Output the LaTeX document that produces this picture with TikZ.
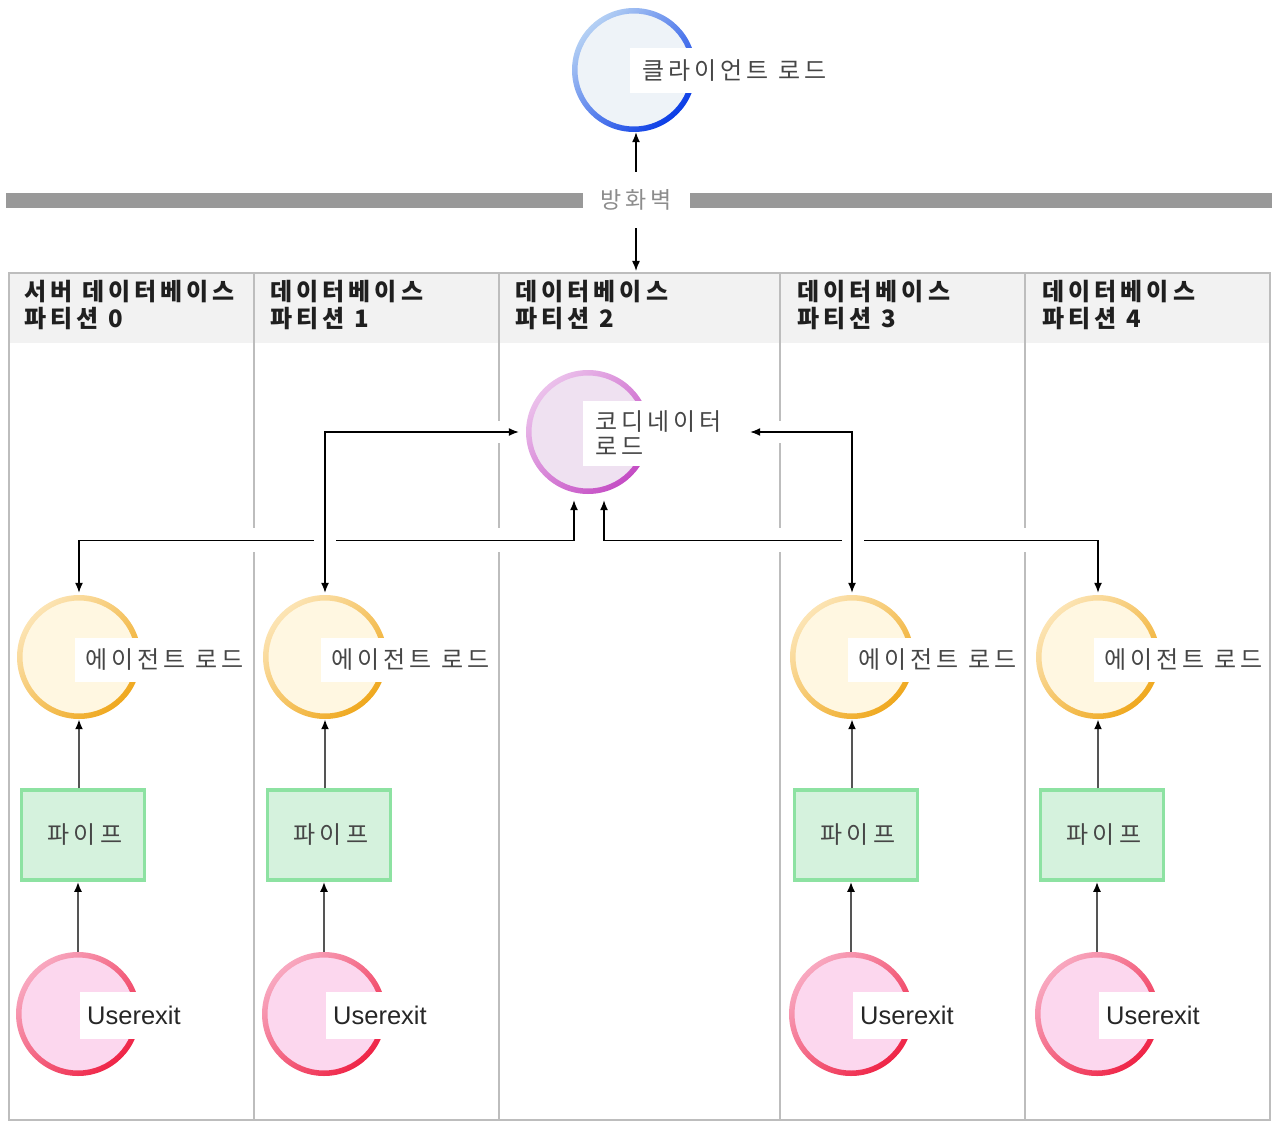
\documentclass[tikz,border=0pt]{standalone}
\usepackage{fontspec}
\setmainfont{Liberation Sans}
\newfontfamily\kr{Noto Sans CJK KR}[LetterSpace=17]
\usetikzlibrary{arrows.meta}

\definecolor{clientfill}{HTML}{EEF3F8}
\definecolor{clientlight}{HTML}{B4D0F4}
\definecolor{clientdark}{HTML}{0A3CE6}
\definecolor{coordfill}{HTML}{EFE1F1}
\definecolor{coordlight}{HTML}{EBC0EB}
\definecolor{coorddark}{HTML}{C44CC4}
\definecolor{agentfill}{HTML}{FFF7E1}
\definecolor{agentlight}{HTML}{FCE4B4}
\definecolor{agentdark}{HTML}{EFA81E}
\definecolor{uefill}{HTML}{FCD7EE}
\definecolor{uelight}{HTML}{F8A8C0}
\definecolor{uedark}{HTML}{EF2446}
\definecolor{pipefill}{HTML}{D5F2DD}
\definecolor{pipeedge}{HTML}{8DE2A2}
\definecolor{wallgray}{HTML}{999999}
\definecolor{wallText}{HTML}{8C8C8C}
\definecolor{hdrfill}{HTML}{F2F2F2}
\definecolor{framegray}{HTML}{BDBDBD}
\definecolor{lblgray}{HTML}{464646}
\definecolor{feedgray}{HTML}{555555}

% ring-shaped node: fill disc, shaded rim, invisible named node on top
\newcommand\ringnode[5]{%
  \fill[#3] (#2) circle[radius=58pt];
  \shade[even odd rule, top color=#4, bottom color=#5, shading angle=45]
    (#2) circle[radius=62pt] (#2) circle[radius=56.5pt];
  \node[circle, minimum size=124pt, inner sep=0pt] (#1) at (#2) {};
}

\begin{document}
\begin{tikzpicture}[x=1pt,y=-1pt,
  conn/.style={line width=1.4pt, draw=black},
  tip/.style={-{Latex[length=10pt,width=8pt]}},
  both/.style={{Latex[length=10pt,width=8pt]}-{Latex[length=10pt,width=8pt]}},
  feed/.style={line width=2pt, draw=feedgray, -{Latex[length=10pt,width=8pt,color=black]}},
  lbl/.style={font=\kr\fontsize{24}{25}\selectfont, text=lblgray, fill=white,
    anchor=west, minimum height=44pt, inner xsep=10pt, inner ysep=0pt},
  uelbl/.style={font=\fontsize{25.5}{27}\selectfont, text=black!85, fill=white,
    anchor=west, minimum height=47pt, inner xsep=7pt, inner ysep=0pt},
  hdr/.style={font=\kr\bfseries\fontsize{24}{27}\selectfont, align=left,
    anchor=north west, inner sep=0pt, text=black!88},
  pipebox/.style={draw=pipeedge, line width=3.5pt, fill=pipefill,
    minimum width=123pt, minimum height=90pt, inner sep=0pt,
    font=\kr\fontsize{24}{26}\selectfont, text=lblgray},
  divider/.style={draw=framegray, line width=1.5pt},
  gapw/.style={draw=white, line width=7pt},
]
\useasboundingbox (0,0) rectangle (1276,1123);

% client node
\ringnode{client}{634,70}{clientfill}{clientlight}{clientdark}
\node[lbl, inner xsep=12pt, minimum height=45pt] (clientlbl) at (630,71) {클라이언트 로드};

% firewall
\fill[wallgray] (6,193) rectangle (583,208);
\fill[wallgray] (690,193) rectangle (1272,208);
\node[font=\kr\fontsize{23}{24}\selectfont, text=wallText, minimum height=56pt, inner ysep=0pt] (fw) at (636,200) {방화벽};

% instance frame: header band
\fill[hdrfill] (9,273) rectangle (1270,343);
\node[hdr] (h0) at (24,280) {서버 데이터베이스\\파티션 0};
\node[hdr] (h1) at (270,280) {데이터베이스\\파티션 1};
\node[hdr] (h2) at (515,280) {데이터베이스\\파티션 2};
\node[hdr] (h3) at (797,280) {데이터베이스\\파티션 3};
\node[hdr] (h4) at (1042,280) {데이터베이스\\파티션 4};

% coordinator node
\ringnode{coord}{588,432}{coordfill}{coordlight}{coorddark}
\node[lbl, align=left, inner xsep=12pt, minimum height=65pt] (coordlbl) at (583,433) {코디네이터\\로드};

% agent nodes
\ringnode{agent0}{79,657}{agentfill}{agentlight}{agentdark}
\node[lbl] (agentlbl0) at (75,660) {에이전트 로드};
\ringnode{agent1}{325,657}{agentfill}{agentlight}{agentdark}
\node[lbl] (agentlbl1) at (321,660) {에이전트 로드};
\ringnode{agent3}{852,657}{agentfill}{agentlight}{agentdark}
\node[lbl] (agentlbl3) at (848,660) {에이전트 로드};
\ringnode{agent4}{1098,657}{agentfill}{agentlight}{agentdark}
\node[lbl] (agentlbl4) at (1094,660) {에이전트 로드};

% pipes
\node[pipebox] (pipe0) at (83,835) {\hspace*{4pt}파이프};
\node[pipebox] (pipe1) at (329,835) {\hspace*{4pt}파이프};
\node[pipebox] (pipe3) at (856,835) {\hspace*{4pt}파이프};
\node[pipebox] (pipe4) at (1102,835) {\hspace*{4pt}파이프};

% user exits
\ringnode{ue0}{78,1014}{uefill}{uelight}{uedark}
\node[uelbl] (uelbl0) at (80,1015) {Userexit};
\ringnode{ue1}{324,1014}{uefill}{uelight}{uedark}
\node[uelbl] (uelbl1) at (326,1015) {Userexit};
\ringnode{ue3}{851,1014}{uefill}{uelight}{uedark}
\node[uelbl] (uelbl3) at (853,1015) {Userexit};
\ringnode{ue4}{1097,1014}{uefill}{uelight}{uedark}
\node[uelbl] (uelbl4) at (1099,1015) {Userexit};

% column dividers and frame
\foreach \x in {254,499,780,1025} \draw[divider] (\x,273) -- (\x,1120);
\draw[framegray, line width=1.8pt] (9,273) rectangle (1270,1120);

% breaks in the dividers where connectors pass
\foreach \x in {254,499,780,1025} \draw[gapw] (\x,528) -- (\x,552);
\foreach \x in {499,780} \draw[gapw] (\x,421) -- (\x,443);

% firewall connectors
\draw[conn, tip] (fw.north) -- (fw.north |- client.south);
\coordinate (frametop) at (636,273);
\draw[conn, tip, shorten >=2pt] (fw.south) -- (frametop);

% coordinator to agents via the lower bus
\draw[conn, both] ([xshift=-14pt,yshift=-6pt]coord.south) -- ++(0,40) -| ([yshift=2pt]agent0.north);
\draw[conn, both] ([xshift=16pt,yshift=-6pt]coord.south) -- ++(0,40) -| ([yshift=2pt]agent4.north);
\draw[gapw] (314,540) -- (336,540);
\draw[gapw] (842,540) -- (864,540);

% coordinator to agents via the upper lines
\draw[conn, both] ([xshift=-7pt]coord.west) -| ([yshift=2pt]agent1.north);
\draw[conn, both] ([xshift=100pt]coord.east) -| ([yshift=2pt]agent3.north);

% pipes feed agents, user exits feed pipes
\foreach \i in {0,1,3,4} {
  \draw[feed] (agent\i.south |- pipe\i.north) -- (agent\i.south);
  \draw[feed] (ue\i.north) -- (ue\i.north |- pipe\i.south);
}
\end{tikzpicture}
\end{document}
